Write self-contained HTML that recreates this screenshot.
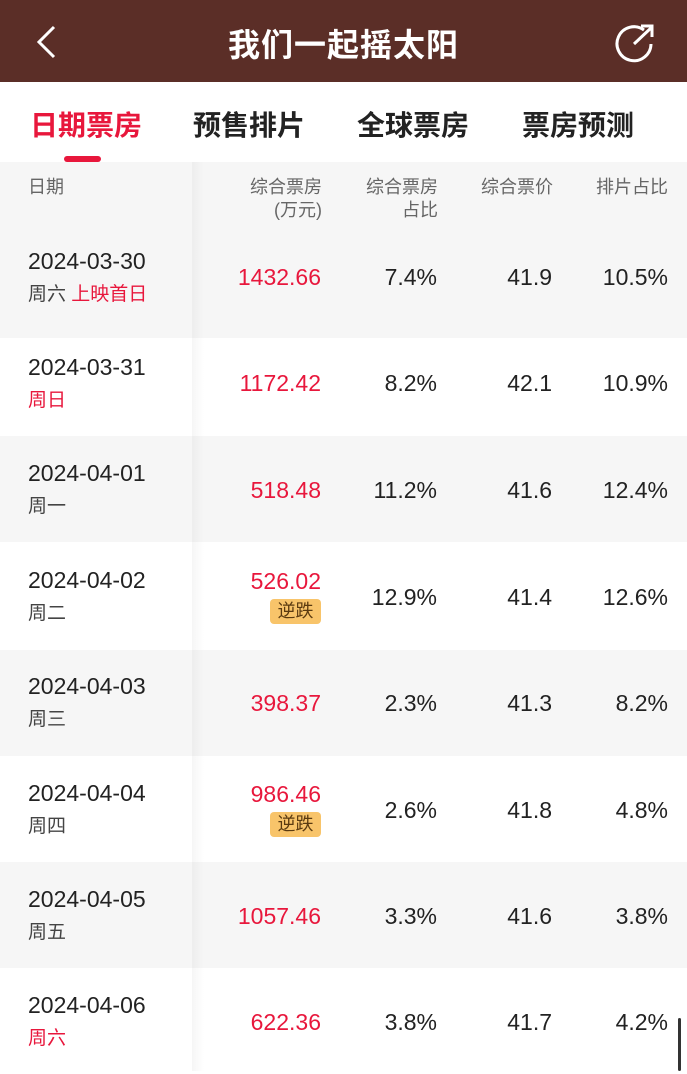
<!DOCTYPE html>
<html><head><meta charset="utf-8"><style>
*{margin:0;padding:0;box-sizing:border-box}
body{width:687px;height:1071px;overflow:hidden;background:#fff;font-family:"Liberation Sans","Noto Sans CJK SC",sans-serif;position:relative;white-space:nowrap}
.top{position:absolute;left:0;top:0;width:687px;height:82px;background:#5b2e27;color:#fff}
.title{position:absolute;left:0;width:687px;top:20px;text-align:center;font-size:32px;font-weight:bold;letter-spacing:1px}
.tabs{position:absolute;top:82px;height:80px;width:687px;background:#fff}
.tab{position:absolute;top:22px;font-size:28px;font-weight:bold;color:#222}
.ul{position:absolute;left:64px;top:156px;width:37px;height:6px;border-radius:3px;background:#e8173c}
.hdr{position:absolute;top:162px;height:70px;width:687px;background:#f6f6f6}
.h{position:absolute;font-size:18px;color:#666;line-height:23px;text-align:right}
.row{position:absolute;left:0;width:687px;height:106px}
.g{background:#f6f6f6}
.shadow{position:absolute;left:192px;top:162px;width:12px;height:909px;background:linear-gradient(to right,rgba(0,0,0,0.035),rgba(0,0,0,0))}
.d{position:absolute;left:28px;font-size:23px;color:#222}
.w{position:absolute;left:28px;font-size:19px;color:#444}
.r{color:#e8173c}
.n{position:absolute;font-size:23px;color:#222;text-align:right}
.n.r,.w.r{color:#e8173c}
.tag{position:absolute;left:270px;width:51px;height:25px;background:#f8c46a;border-radius:4px;font-size:18px;color:#5a3a10;text-align:center;line-height:25px}
.wrap{position:absolute;top:0;left:0;width:687px;height:1071px}
</style></head><body>
<div class="top">
<svg style="position:absolute;left:34px;top:24px" width="26" height="36"><polyline points="20,3 5,18 20,33" fill="none" stroke="#fff" stroke-width="3"/></svg>
<div class="title">我们一起摇太阳</div>
<svg style="position:absolute;left:614px;top:22px" width="44" height="42"><path d="M30 8 A17 17 0 1 0 37 22" fill="none" stroke="#fff" stroke-width="3"/><line x1="20" y1="22" x2="38" y2="5" stroke="#fff" stroke-width="3"/><polyline points="27,4 38,4 38,15" fill="none" stroke="#fff" stroke-width="3"/></svg>
</div>
<div class="tabs">
<div class="tab" style="left:30px;color:#e8173c">日期票房</div>
<div class="tab" style="left:193px">预售排片</div>
<div class="tab" style="left:357px">全球票房</div>
<div class="tab" style="left:522px">票房预测</div>
</div>
<div class="ul"></div>
<div class="hdr">
<div class="h" style="left:28px;top:14px">日期</div>
<div class="h" style="right:365px;top:14px">综合票房<br>(万元)</div>
<div class="h" style="right:249px;top:14px">综合票房<br>占比</div>
<div class="h" style="right:134px;top:14px">综合票价</div>
<div class="h" style="right:19px;top:14px">排片占比</div>
</div>

<div class="row g" style="top:232px"></div>
<div class="row" style="top:330px"></div>
<div class="row g" style="top:436px"></div>
<div class="row" style="top:543px"></div>
<div class="row g" style="top:650px"></div>
<div class="row" style="top:756px"></div>
<div class="row g" style="top:862px"></div>
<div class="row" style="top:968px"></div>
<div class="shadow"></div>

<div class="wrap">
<div class="d" style="top:248px">2024-03-30</div><div class="w" style="top:279px">周六 <span class="r">上映首日</span></div>
<div class="n r" style="right:366px;top:264px">1432.66</div><div class="n" style="right:250px;top:264px">7.4%</div><div class="n" style="right:135px;top:264px">41.9</div><div class="n" style="right:19px;top:264px">10.5%</div>

<div class="d" style="top:354px">2024-03-31</div><div class="w r" style="top:385px">周日</div>
<div class="n r" style="right:366px;top:370px">1172.42</div><div class="n" style="right:250px;top:370px">8.2%</div><div class="n" style="right:135px;top:370px">42.1</div><div class="n" style="right:19px;top:370px">10.9%</div>

<div class="d" style="top:460px">2024-04-01</div><div class="w" style="top:491px">周一</div>
<div class="n r" style="right:366px;top:477px">518.48</div><div class="n" style="right:250px;top:477px">11.2%</div><div class="n" style="right:135px;top:477px">41.6</div><div class="n" style="right:19px;top:477px">12.4%</div>

<div class="d" style="top:567px">2024-04-02</div><div class="w" style="top:598px">周二</div>
<div class="n r" style="right:366px;top:568px">526.02</div><div class="tag" style="top:599px">逆跌</div><div class="n" style="right:250px;top:584px">12.9%</div><div class="n" style="right:135px;top:584px">41.4</div><div class="n" style="right:19px;top:584px">12.6%</div>

<div class="d" style="top:673px">2024-04-03</div><div class="w" style="top:704px">周三</div>
<div class="n r" style="right:366px;top:690px">398.37</div><div class="n" style="right:250px;top:690px">2.3%</div><div class="n" style="right:135px;top:690px">41.3</div><div class="n" style="right:19px;top:690px">8.2%</div>

<div class="d" style="top:780px">2024-04-04</div><div class="w" style="top:811px">周四</div>
<div class="n r" style="right:366px;top:781px">986.46</div><div class="tag" style="top:812px">逆跌</div><div class="n" style="right:250px;top:797px">2.6%</div><div class="n" style="right:135px;top:797px">41.8</div><div class="n" style="right:19px;top:797px">4.8%</div>

<div class="d" style="top:886px">2024-04-05</div><div class="w" style="top:917px">周五</div>
<div class="n r" style="right:366px;top:903px">1057.46</div><div class="n" style="right:250px;top:903px">3.3%</div><div class="n" style="right:135px;top:903px">41.6</div><div class="n" style="right:19px;top:903px">3.8%</div>

<div class="d" style="top:992px">2024-04-06</div><div class="w r" style="top:1023px">周六</div>
<div class="n r" style="right:366px;top:1009px">622.36</div><div class="n" style="right:250px;top:1009px">3.8%</div><div class="n" style="right:135px;top:1009px">41.7</div><div class="n" style="right:19px;top:1009px">4.2%</div>
</div>
<div style="position:absolute;left:678px;top:1018px;width:3px;height:53px;background:#333;border-radius:2px"></div>
</body></html>
